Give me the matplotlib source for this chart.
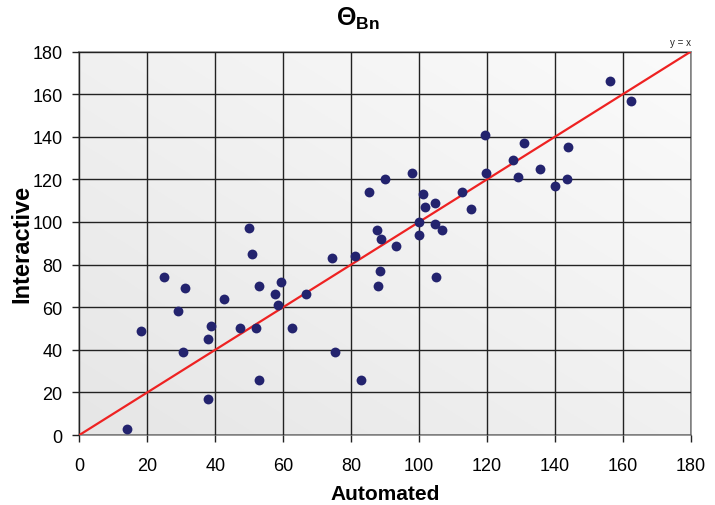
import numpy as np
import matplotlib
matplotlib.use("Agg")
import matplotlib.pyplot as plt
from matplotlib.colors import LinearSegmentedColormap

automated = [14, 18, 25, 29, 31, 30.5, 38, 38, 38.7, 42.6, 47.3, 50, 50.7, 52, 53, 53,
             57.6, 58.6, 59.3, 62.6, 66.8, 74.5, 75.3, 81, 82.8, 85.2, 87.5, 87.8, 88.4,
             88.8, 90, 93.1, 98, 99.9, 99.9, 101, 101.8, 104.6, 104.8, 104.9, 106.8, 112.6,
             115.2, 119.4, 119.7, 127.6, 129.2, 131, 135.6, 140.1, 143.6, 143.8, 156.2, 162.5]
interactive = [3, 49, 74, 58, 69, 39, 17, 45, 51, 64, 50, 97, 85, 50, 70, 26,
               66, 61, 72, 50, 66, 83, 39, 84, 26, 114, 96, 70, 77,
               92, 120, 88.5, 123, 100, 94, 113, 107, 109, 99, 74, 96, 114,
               106, 141, 123, 129, 121, 137, 125, 117, 120, 135, 166, 157]
line_x = [0, 180]
ticks = [0, 20, 40, 60, 80, 100, 120, 140, 160, 180]

plt.rcParams['font.family'] = ['Liberation Sans', 'DejaVu Sans']
plt.rcParams['mathtext.fontset'] = 'custom'
plt.rcParams['mathtext.rm'] = 'Liberation Sans'
plt.rcParams['mathtext.bf'] = 'Liberation Sans:bold'

fig = plt.figure(figsize=(7.15, 5.06), dpi=100)
ax = fig.add_axes([0.111, 0.1383, 0.8553, 0.7579])

# gradient background
cmap = LinearSegmentedColormap.from_list('bg', ['#e6e6e6', '#fbfbfb'])
gx, gy = np.meshgrid(np.linspace(0, 1, 200), np.linspace(0, 1, 200))
grad = (gx + gy) / 2
ax.imshow(grad, extent=[0, 180, 0, 180], origin='lower', cmap=cmap,
          aspect='auto', zorder=0, interpolation='bilinear')

ax.set_xlim(0, 180)
ax.set_ylim(0, 180)
ax.set_xticks(ticks)
ax.set_yticks(ticks)
ax.grid(True, color='#222222', linewidth=1.0, zorder=1)
ax.set_axisbelow(False)
for s in ax.spines.values():
    s.set_color('#888888')
    s.set_linewidth(1.2)
ax.tick_params(axis='both', labelsize=13, length=5, width=1, color='#222222')
ax.tick_params(axis='x', pad=11)
ax.tick_params(axis='y', pad=7)

ax.plot(line_x, line_x, color='#ee2222', linewidth=1.6, zorder=3)
ax.scatter(automated, interactive, s=50, color='#23236e', zorder=4, linewidths=0)

ax.text(180, 182, 'y = x', fontsize=7, ha='right', va='bottom', color='#222222')

fig.text(385 / 715, 1 - 495 / 506, 'Automated', fontsize=15, fontweight='bold',
         ha='center', va='center')
fig.text(22 / 715, 1 - 244 / 506, 'Interactive', fontsize=17, fontweight='bold',
         ha='center', va='center', rotation=90)
fig.text(0.5, 0.962, r'$\mathbf{\Theta_{Bn}}$', fontsize=18, ha='center', va='center')

fig.savefig('out.png', dpi=100)
